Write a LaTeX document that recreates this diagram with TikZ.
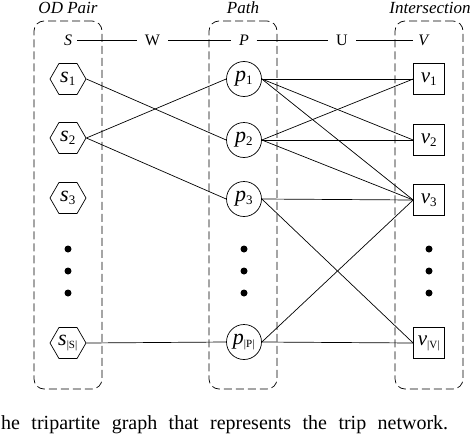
\documentclass[tikz,border=0pt]{standalone}
\usepackage{fontspec}
\setmainfont{Liberation Serif}
\usetikzlibrary{shapes.geometric}
\tikzset{
  grp/.style={draw, dash pattern=on 8pt off 4pt, rounded corners=10pt, line width=0.7pt, minimum width=68pt, minimum height=368pt, inner sep=0pt},
  hexn/.style={regular polygon, regular polygon sides=6, minimum size=36pt, inner sep=0pt, draw, line width=0.7pt, font=\fontsize{22}{22}\selectfont},
  pn/.style={circle, draw, minimum size=35pt, inner sep=0pt, line width=0.7pt, font=\fontsize{22}{22}\selectfont},
  vn/.style={rectangle, draw, minimum size=31pt, inner sep=0pt, line width=0.7pt, font=\fontsize{21}{21}\selectfont},
  dotn/.style={circle, fill, inner sep=0pt, minimum size=7pt},
  edge/.style={line width=0.7pt},
  toplab/.style={font=\itshape\fontsize{17}{17}\selectfont, inner sep=0pt},
  rowlab/.style={font=\fontsize{16}{16}\selectfont, inner sep=5pt}
}
\newcommand{\sub}[1]{\textsubscript{\fontsize{13}{13}\selectfont #1}}
\newcommand{\subb}[1]{\textsubscript{\fontsize{11}{11}\selectfont #1}}
\begin{document}
\begin{tikzpicture}[x=1pt,y=-1pt]
\useasboundingbox (0,0) rectangle (470,436);
% group boxes
\node[grp] (gS) at (68,205) {};
\node[grp] (gP) at (243,205) {};
\node[grp] (gV) at (429,205) {};
% top labels
\node[toplab] (tS) at (68,8) {OD Pair};
\node[toplab] (tP) at (243,8) {Path};
\node[toplab] (tV) at (430,8) {Intersection};
% top row
\node[rowlab, inner sep=5pt] (S) at (68,40) {\textit{S}};
\node[rowlab, inner sep=8pt] (W) at (152.5,40) {W};
\node[rowlab, inner sep=7.5pt] (P) at (244,40) {\textit{P}};
\node[rowlab, inner sep=8.5pt] (U) at (342,40) {U};
\node[rowlab, inner sep=5pt] (V) at (424,40) {\textit{V}};
\draw[edge] (S) -- (W);
\draw[edge] (W) -- (P);
\draw[edge] (P) -- (U);
\draw[edge] (U) -- (V);
% S nodes
\node[hexn] (s1) at (68,79) {\textit{s}\sub{1}};
\node[hexn] (s2) at (68,138) {\textit{s}\sub{2}};
\node[hexn] (s3) at (68,198) {\textit{s}\sub{3}};
\node[hexn] (sS) at (68,343) {\textit{s}\subb{|S|}};
% P nodes
\node[pn] (p1) at (244,79) {\textit{p}\sub{1}};
\node[pn] (p2) at (244,140) {\textit{p}\sub{2}};
\node[pn] (p3) at (244,199) {\textit{p}\sub{3}};
\node[pn] (pP) at (244,342) {\textit{p}\subb{|P|}};
% V nodes
\node[vn] (v1) at (429,79) {\textit{v}\sub{1}};
\node[vn] (v2) at (429,140) {\textit{v}\sub{2}};
\node[vn] (v3) at (429,200) {\textit{v}\sub{3}};
\node[vn] (vV) at (429,343) {\textit{v}\subb{|V|}};
% dots
\foreach \c/\x in {s/68,p/244,v/429}{
  \node[dotn] (d\c1) at (\x,249) {};
  \node[dotn] (d\c2) at (\x,271) {};
  \node[dotn] (d\c3) at (\x,293) {};
}
% edges S-P
\draw[edge] (s1.east) -- (p2.west);
\draw[edge] (s2.east) -- (p1.west);
\draw[edge] (s2.east) -- (p3.west);
\draw[edge] (sS.east) -- (pP.west);
% edges P-V
\draw[edge] (p1.east) -- (v1.west);
\draw[edge] (p1.east) -- (v2.west);
\draw[edge] (p1.east) -- (v3.west);
\draw[edge] (p2.east) -- (v1.west);
\draw[edge] (p2.east) -- (v2.west);
\draw[edge] (p2.east) -- (v3.west);
\draw[edge] (p3.east) -- (v3.west);
\draw[edge] (p3.east) -- (vV.west);
\draw[edge] (pP.east) -- (v3.west);
\draw[edge] (pP.east) -- (vV.west);
% caption
\node[anchor=base west, inner sep=0pt, font=\fontsize{20}{20}\selectfont] (cap) at (1,429) {\makebox[447pt][s]{he tripartite graph that represents the trip network.}};
\end{tikzpicture}
\end{document}
